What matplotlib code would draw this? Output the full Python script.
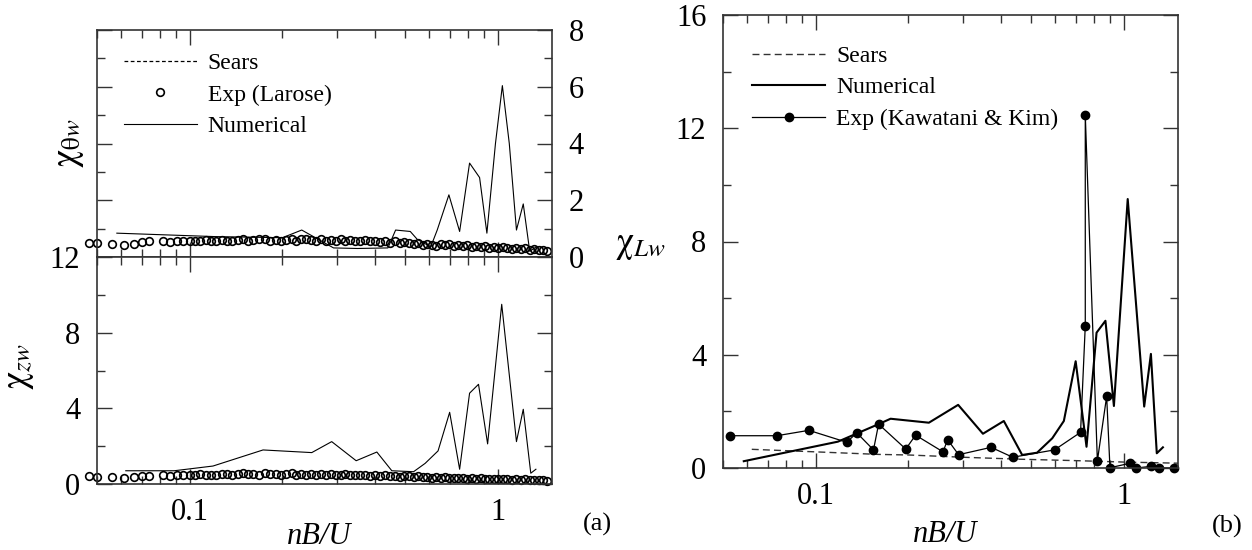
import numpy as np
import matplotlib
matplotlib.use("Agg")
import matplotlib.pyplot as plt
from matplotlib.lines import Line2D
from matplotlib.ticker import LogLocator, NullFormatter, MultipleLocator

plt.rcParams["font.family"] = ["Liberation Serif", "DejaVu Serif"]
plt.rcParams["mathtext.fontset"] = "stix"

# --- (a) experimental admittance, Larose (same reduced frequencies for both panels)
larose_f = [
    0.047, 0.050, 0.056, 0.061, 0.066, 0.070, 0.074, 0.082, 0.086, 0.091, 0.095, 0.100,
    0.104, 0.108, 0.113, 0.117, 0.122, 0.127, 0.132, 0.137, 0.143, 0.149, 0.155, 0.161,
    0.168, 0.175, 0.182, 0.190, 0.198,
    0.206, 0.214, 0.222, 0.230, 0.239, 0.248, 0.257, 0.267, 0.277, 0.287, 0.298, 0.309,
    0.320, 0.332, 0.345, 0.358, 0.371, 0.385, 0.400, 0.415, 0.430, 0.446, 0.463, 0.480,
    0.498,
    0.516, 0.534, 0.552, 0.571, 0.590, 0.610, 0.631, 0.652, 0.674, 0.697, 0.720, 0.745,
    0.770, 0.796, 0.823, 0.851, 0.880, 0.910, 0.940, 0.972, 1.005, 1.040, 1.075, 1.110,
    1.150, 1.190, 1.230, 1.270, 1.310, 1.360, 1.400, 1.440,
]
larose_theta = [
    0.50, 0.50, 0.45, 0.42, 0.47, 0.52, 0.56, 0.55, 0.52, 0.55, 0.57, 0.56,
    0.58, 0.55, 0.60, 0.57, 0.56, 0.60, 0.58, 0.55, 0.60, 0.62, 0.58, 0.60,
    0.64, 0.62, 0.58, 0.60, 0.57,
    0.60, 0.62, 0.58, 0.65, 0.62, 0.60, 0.58, 0.62, 0.55, 0.60, 0.58, 0.62,
    0.57, 0.60, 0.55, 0.58, 0.60, 0.56, 0.58, 0.52, 0.55, 0.50, 0.55, 0.48,
    0.52,
    0.50, 0.45, 0.48, 0.42, 0.46, 0.44, 0.40, 0.45, 0.42, 0.46, 0.40, 0.43,
    0.38, 0.42, 0.36, 0.40, 0.34, 0.38, 0.33, 0.35, 0.30, 0.34, 0.30, 0.28,
    0.32, 0.27, 0.30, 0.25, 0.28, 0.24, 0.26, 0.22,
]
larose_z = [
    0.42, 0.38, 0.35, 0.32, 0.38, 0.40, 0.44, 0.46, 0.42, 0.48, 0.46, 0.50,
    0.48, 0.52, 0.45, 0.50, 0.47, 0.55, 0.52, 0.48, 0.55, 0.58, 0.52, 0.55,
    0.50, 0.56, 0.52, 0.54, 0.50,
    0.52, 0.56, 0.50, 0.54, 0.48, 0.55, 0.50, 0.52, 0.47, 0.52, 0.50, 0.48,
    0.52, 0.46, 0.50, 0.45, 0.48, 0.44, 0.47, 0.42, 0.45, 0.40, 0.44, 0.38,
    0.42,
    0.40, 0.36, 0.40, 0.35, 0.38, 0.34, 0.36, 0.33, 0.35, 0.30, 0.34, 0.30,
    0.32, 0.28, 0.31, 0.27, 0.30, 0.26, 0.28, 0.25, 0.27, 0.24, 0.26, 0.22,
    0.25, 0.21, 0.24, 0.20, 0.22, 0.19, 0.21, 0.18,
]

# --- (a) numerical admittance
num_theta_f = [0.058, 0.120, 0.200, 0.231, 0.293, 0.350, 0.440, 0.466, 0.520, 0.548,
               0.606, 0.636, 0.694, 0.752, 0.810, 0.873, 0.922, 0.983, 1.035, 1.090,
               1.150, 1.210, 1.270, 1.330]
num_theta = [0.84, 0.72, 0.68, 0.95, 0.32, 0.30, 0.32, 0.95, 0.90, 0.62,
             0.36, 0.95, 2.19, 0.90, 3.31, 2.80, 0.84, 4.00, 6.04, 4.00,
             0.95, 1.87, 0.20, 0.35]

num_z_f = [0.062, 0.089, 0.119, 0.173, 0.249, 0.289, 0.347, 0.405, 0.453, 0.533, 0.581,
           0.640, 0.698, 0.752, 0.810, 0.866, 0.927, 1.030, 1.150, 1.210, 1.280, 1.330]
num_z = [0.70, 0.70, 0.95, 1.80, 1.66, 2.24, 1.23, 1.69, 0.70, 0.65, 1.09,
         1.75, 3.79, 0.78, 4.80, 5.27, 2.12, 9.50, 2.24, 3.95, 0.57, 0.78]

# --- (b) lift admittance
sears_f = [0.062, 0.100, 0.160, 0.200, 0.300, 0.460, 0.700, 1.000, 1.500]
sears_L = [0.66, 0.57, 0.48, 0.46, 0.38, 0.31, 0.26, 0.21, 0.17]

num_L_f = [0.0584, 0.118, 0.160, 0.175, 0.233, 0.290, 0.349, 0.408, 0.468, 0.523, 0.586,
           0.639, 0.698, 0.757, 0.816, 0.872, 0.929, 1.030, 1.165, 1.225, 1.280, 1.340]
num_L = [0.24, 0.93, 1.55, 1.74, 1.60, 2.23, 1.21, 1.66, 0.46, 0.54, 1.05,
         1.66, 3.77, 0.75, 4.78, 5.20, 2.19, 9.50, 2.17, 4.03, 0.52, 0.73]

kk_f = [0.0525, 0.0748, 0.095, 0.126, 0.136, 0.154, 0.160, 0.196, 0.211, 0.259, 0.268,
        0.291, 0.371, 0.436, 0.596, 0.724, 0.750, 0.750, 0.821, 0.880, 0.902, 1.051,
        1.098, 1.230, 1.300, 1.460]
kk_L = [1.14, 1.14, 1.33, 0.91, 1.24, 0.64, 1.55, 0.67, 1.16, 0.57, 1.00,
        0.47, 0.73, 0.38, 0.64, 1.26, 5.02, 12.47, 0.25, 2.53, 0.01, 0.17,
        0.00, 0.06, 0.00, 0.00]

assert len(larose_f) == len(larose_theta) == len(larose_z)

W, H = 1252, 550
fig = plt.figure(figsize=(W / 100, H / 100), dpi=100)


def px_axes(x0, y_top, w, h):
    return fig.add_axes([x0 / W, 1 - (y_top + h) / H, w / W, h / H])


ax_t = px_axes(97, 30, 455, 227)
ax_b = px_axes(97, 257, 455, 227)
ax_r = px_axes(723, 15, 455, 453)


def style_axes(ax, ytop, ymajor, yminor):
    ax.set_xscale("log")
    ax.set_xlim(0.05, 1.5)
    ax.set_ylim(0, ytop)
    ax.set_xticks([0.1, 1], ["0.1", "1"])
    ax.xaxis.set_minor_locator(LogLocator(base=10, subs=np.arange(2, 10)))
    ax.xaxis.set_minor_formatter(NullFormatter())
    ax.yaxis.set_major_locator(MultipleLocator(ymajor))
    ax.yaxis.set_minor_locator(MultipleLocator(yminor))
    ax.tick_params(which="both", direction="in", top=True, right=True,
                   labelsize=22, color="#333", width=1)
    ax.tick_params(which="major", length=11)
    ax.tick_params(which="minor", length=6)
    ax.tick_params(axis="x", pad=10)
    ax.tick_params(axis="y", pad=12)
    for s in ax.spines.values():
        s.set_linewidth(1.2)
        s.set_color("#333")


style_axes(ax_t, 8, 2, 1)
style_axes(ax_b, 12, 4, 2)
style_axes(ax_r, 16, 4, 2)
ax_t.tick_params(labelbottom=False, labelleft=False, labelright=True)

leg_kw = dict(loc="upper left", frameon=False, fontsize=17, handlelength=3.1,
              handletextpad=0.45, labelspacing=0.42, borderpad=0, borderaxespad=0,
              numpoints=1)

# (a) top: pitching
sears_a = Line2D([], [], color="k", lw=0.9, ls=(0, (3, 2)))
exp_t, = ax_t.plot(larose_f, larose_theta, ls="none", marker="o", ms=5.5,
                   mfc="none", mec="k", mew=1.2, clip_on=False)
num_t, = ax_t.plot(num_theta_f, num_theta, color="k", lw=0.8)
ax_t.legend([sears_a, exp_t, num_t], ["Sears", "Exp (Larose)", "Numerical"],
            bbox_to_anchor=(0.059, 0.90), **leg_kw)

# (a) bottom: heaving
ax_b.plot(larose_f, larose_z, ls="none", marker="o", ms=5.5,
          mfc="none", mec="k", mew=1.2, clip_on=False)
ax_b.plot(num_z_f, num_z, color="k", lw=0.8)

# (b) lift
sears_b, = ax_r.plot(sears_f, sears_L, color="#333", lw=1.0, ls=(0, (5, 3)))
num_r, = ax_r.plot(num_L_f, num_L, color="k", lw=1.5)
exp_r, = ax_r.plot(kk_f, kk_L, color="k", lw=0.9, marker="o", ms=6, clip_on=False)
ax_r.legend([sears_b, num_r, exp_r], ["Sears", "Numerical", "Exp (Kawatani & Kim)"],
            bbox_to_anchor=(0.064, 0.933), **leg_kw)

# axis titles
fig.text(70 / W, 1 - 143 / H, r"$\mathrm{\chi}_{\mathrm{\theta} w}$", rotation=90,
         ha="center", va="center", fontsize=26)
fig.text(20 / W, 1 - 367 / H, r"$\mathrm{\chi}_{zw}$", rotation=90,
         ha="center", va="center", fontsize=26)
fig.text(641 / W, 1 - 245 / H, r"$\mathrm{\chi}_{Lw}$",
         ha="center", va="center", fontsize=26)
fig.text(319 / W, 1 - 537 / H, "nB/U", style="italic", ha="center", va="center", fontsize=22)
fig.text(945 / W, 1 - 535 / H, "nB/U", style="italic", ha="center", va="center", fontsize=22)
fig.text(597 / W, 1 - 524 / H, "(a)", ha="center", va="center", fontsize=19)
fig.text(1227 / W, 1 - 526 / H, "(b)", ha="center", va="center", fontsize=19)

fig.savefig("out.png", dpi=100)
